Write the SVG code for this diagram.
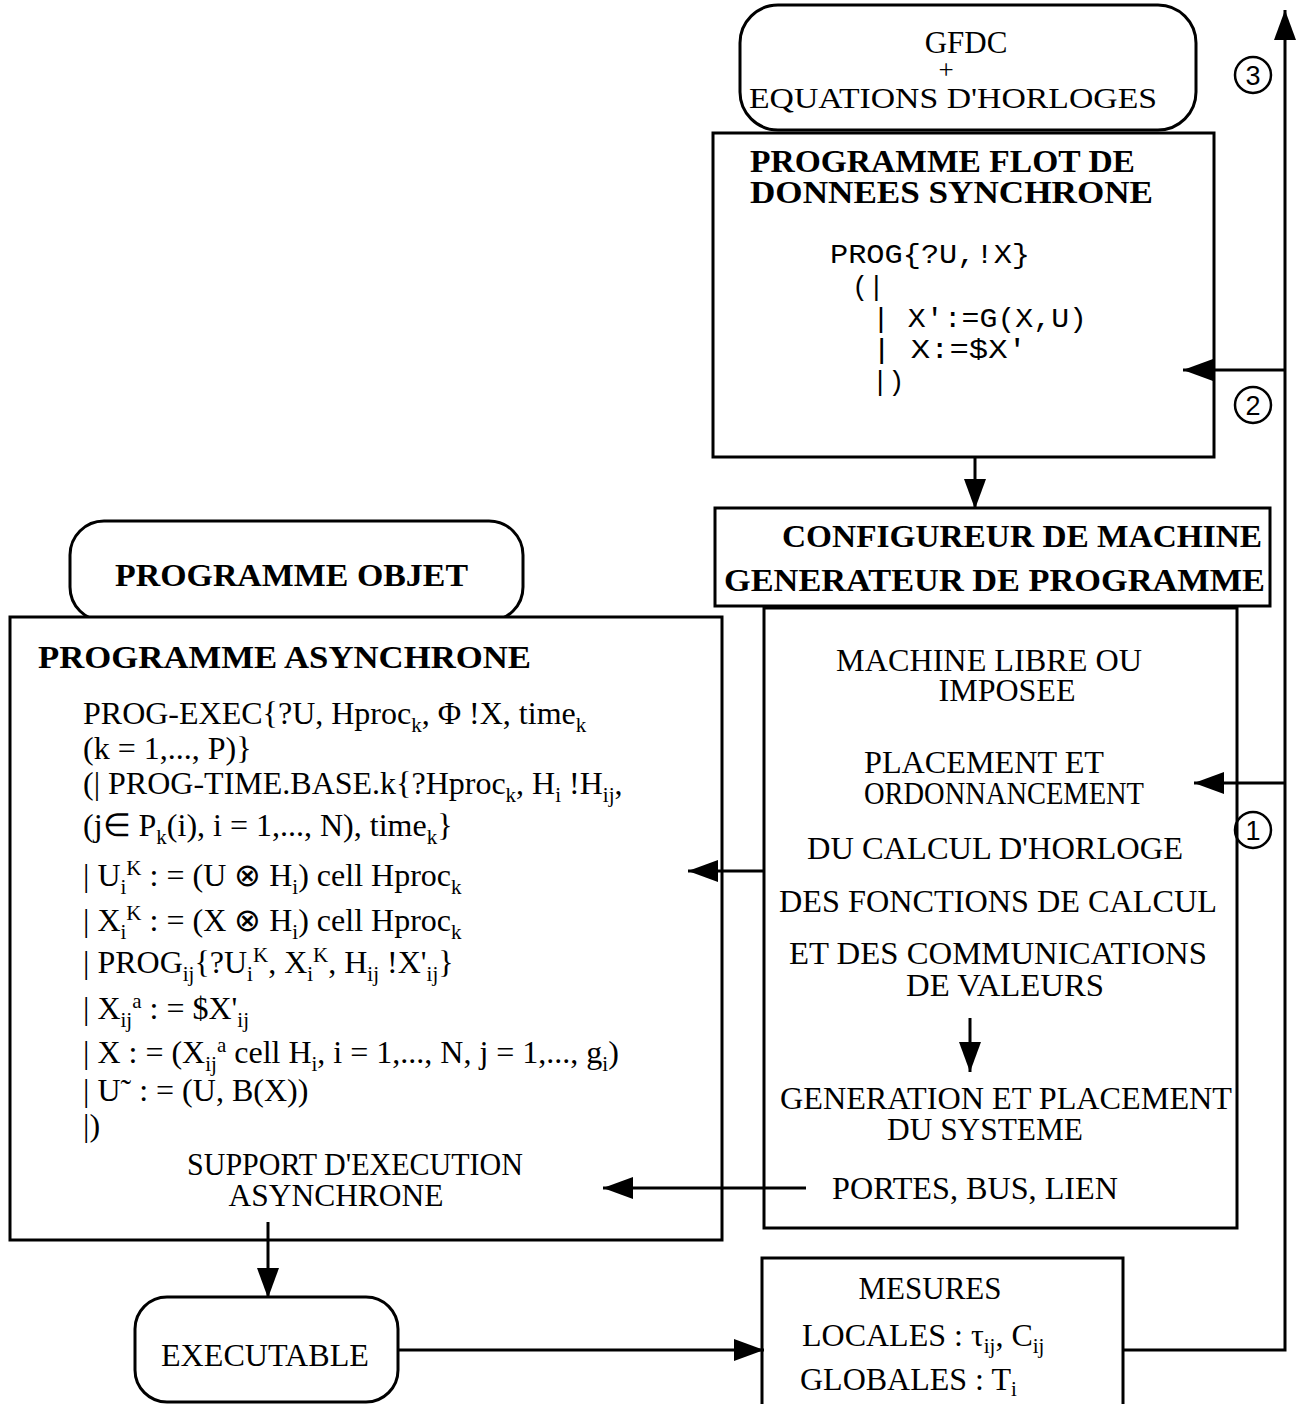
<svg xmlns="http://www.w3.org/2000/svg" width="1299" height="1404" viewBox="0 0 1299 1404">
<style>
.box{fill:#fff;stroke:#000;stroke-width:3}
.ln{fill:none;stroke:#000;stroke-width:3}
.t{font-family:"Liberation Serif","Times New Roman",serif;font-size:32px;fill:#000}
.b{font-family:"Liberation Serif","Times New Roman",serif;font-size:31px;font-weight:bold;fill:#000}
.m{font-family:"Liberation Mono","Courier New",monospace;font-size:27px;fill:#000}
.c{font-family:"Liberation Serif","Times New Roman",serif;font-size:31px;fill:#000;text-anchor:middle}
.s{font-size:21px}
.n{font-family:"Liberation Sans",Arial,sans-serif;font-size:27px;fill:#000;text-anchor:middle}
</style>
<defs>
<marker id="ah" markerUnits="userSpaceOnUse" markerWidth="32" markerHeight="24" refX="30" refY="11" orient="auto">
<path d="M0,0 L30,11 L0,22 z" fill="#000"/>
</marker>
</defs>
<rect width="1299" height="1404" fill="#fff"/>

<g id="gfdc">
<rect class="box" x="740" y="5" width="456" height="125" rx="38"/>
<text class="c" x="966" y="53" style="font-size:31px">GFDC</text>
<text class="c" x="946" y="79" style="font-size:27px">+</text>
<text class="c" x="953" y="108" style="font-size:29px" textLength="408" lengthAdjust="spacingAndGlyphs">EQUATIONS D'HORLOGES</text>
</g>

<g id="flot">
<rect class="box" x="713" y="133" width="501" height="324"/>
<text class="b" x="750" y="172" textLength="385" lengthAdjust="spacingAndGlyphs">PROGRAMME  FLOT  DE</text>
<text class="b" x="750" y="203" textLength="403" lengthAdjust="spacingAndGlyphs">DONNEES     SYNCHRONE</text>
<text class="m" x="830" y="263" textLength="200" lengthAdjust="spacingAndGlyphs">PROG{?U,!X}</text>
<text class="m" x="852" y="295">(|</text>
<text class="m" x="872" y="327" textLength="215" lengthAdjust="spacingAndGlyphs">| X':=G(X,U)</text>
<text class="m" x="872" y="358" textLength="155" lengthAdjust="spacingAndGlyphs">| X:=$X'</text>
<text class="m" x="872" y="390">|)</text>
</g>

<g id="configureur">
<rect class="box" x="715" y="508" width="555" height="98"/>
<text class="b" x="782" y="547" textLength="480" lengthAdjust="spacingAndGlyphs">CONFIGUREUR  DE  MACHINE</text>
<text class="b" x="724" y="591" textLength="541" lengthAdjust="spacingAndGlyphs">GENERATEUR   DE   PROGRAMME</text>
</g>

<g id="machine">
<rect class="box" x="764" y="608" width="473" height="620"/>
<text class="c" x="989" y="671" textLength="306" lengthAdjust="spacingAndGlyphs">MACHINE LIBRE OU</text>
<text class="c" x="1007" y="701" textLength="137" lengthAdjust="spacingAndGlyphs">IMPOSEE</text>
<text class="c" x="984" y="773" textLength="240" lengthAdjust="spacingAndGlyphs">PLACEMENT ET</text>
<text class="c" x="1004" y="804" textLength="280" lengthAdjust="spacingAndGlyphs">ORDONNANCEMENT</text>
<text class="c" x="995" y="859" textLength="376" lengthAdjust="spacingAndGlyphs">DU CALCUL D'HORLOGE</text>
<text class="c" x="998" y="912" textLength="438" lengthAdjust="spacingAndGlyphs">DES FONCTIONS DE CALCUL</text>
<text class="c" x="998" y="964" textLength="418" lengthAdjust="spacingAndGlyphs">ET DES COMMUNICATIONS</text>
<text class="c" x="1005" y="996" textLength="198" lengthAdjust="spacingAndGlyphs">DE VALEURS</text>
<text class="c" x="1006" y="1109" textLength="452" lengthAdjust="spacingAndGlyphs">GENERATION ET PLACEMENT</text>
<text class="c" x="985" y="1140" textLength="196" lengthAdjust="spacingAndGlyphs">DU SYSTEME</text>
<text class="c" x="975" y="1199" textLength="286" lengthAdjust="spacingAndGlyphs">PORTES, BUS, LIEN</text>
</g>

<g id="objet">
<rect class="box" x="70" y="521" width="453" height="100" rx="34"/>
<text class="b" x="115" y="586" textLength="353" lengthAdjust="spacingAndGlyphs">PROGRAMME     OBJET</text>
</g>

<g id="asynchrone">
<rect class="box" x="10" y="617" width="712" height="623"/>
<text class="b" x="38" y="668" textLength="493" lengthAdjust="spacingAndGlyphs">PROGRAMME      ASYNCHRONE</text>
<text class="t" x="83" y="724">PROG-EXEC{?U, Hproc<tspan class="s" dy="8">k</tspan><tspan dy="-8">, Φ !X, time</tspan><tspan class="s" dy="8">k</tspan></text>
<text class="t" x="83" y="759">(k = 1,..., P)}</text>
<text class="t" x="83" y="794">(| PROG-TIME.BASE.k{?Hproc<tspan class="s" dy="8">k</tspan><tspan dy="-8">, H</tspan><tspan class="s" dy="8">i</tspan><tspan dy="-8"> !H</tspan><tspan class="s" dy="8">ij</tspan><tspan dy="-8">,</tspan></text>
<text class="t" x="83" y="836">(j∈ P<tspan class="s" dy="8">k</tspan><tspan dy="-8">(i), i = 1,..., N), time</tspan><tspan class="s" dy="8">k</tspan><tspan dy="-8">}</tspan></text>
<text class="t" x="83" y="886">| U<tspan class="s" dy="8">i</tspan><tspan class="s" dy="-19">K</tspan><tspan dy="11"> : = (U ⊗ H</tspan><tspan class="s" dy="8">i</tspan><tspan dy="-8">) cell Hproc</tspan><tspan class="s" dy="8">k</tspan></text>
<text class="t" x="83" y="931">| X<tspan class="s" dy="8">i</tspan><tspan class="s" dy="-19">K</tspan><tspan dy="11"> : =  (X ⊗ H</tspan><tspan class="s" dy="8">i</tspan><tspan dy="-8">) cell Hproc</tspan><tspan class="s" dy="8">k</tspan></text>
<text class="t" x="83" y="973">| PROG<tspan class="s" dy="8">ij</tspan><tspan dy="-8">{?U</tspan><tspan class="s" dy="8">i</tspan><tspan class="s" dy="-19">K</tspan><tspan dy="11">, X</tspan><tspan class="s" dy="8">i</tspan><tspan class="s" dy="-19">K</tspan><tspan dy="11">, H</tspan><tspan class="s" dy="8">ij</tspan><tspan dy="-8"> !X'</tspan><tspan class="s" dy="8">ij</tspan><tspan dy="-8">}</tspan></text>
<text class="t" x="83" y="1019">| X<tspan class="s" dy="8">ij</tspan><tspan class="s" dy="-19">a</tspan><tspan dy="11"> : =  $X'</tspan><tspan class="s" dy="8">ij</tspan></text>
<text class="t" x="83" y="1063">| X : =  (X<tspan class="s" dy="8">ij</tspan><tspan class="s" dy="-19">a</tspan><tspan dy="11"> cell H</tspan><tspan class="s" dy="8">i</tspan><tspan dy="-8">, i = 1,..., N, j = 1,..., g</tspan><tspan class="s" dy="8">i</tspan><tspan dy="-8">)</tspan></text>
<text class="t" x="83" y="1101">| U˜ : =  (U, B(X))</text>
<text class="t" x="83" y="1136">|)</text>
<text class="c" x="355" y="1175" textLength="336" lengthAdjust="spacingAndGlyphs">SUPPORT D'EXECUTION</text>
<text class="c" x="336" y="1206" textLength="215" lengthAdjust="spacingAndGlyphs">ASYNCHRONE</text>
</g>

<g id="executable">
<rect class="box" x="135" y="1297" width="263" height="105" rx="32"/>
<text class="c" x="265" y="1366" textLength="208" lengthAdjust="spacingAndGlyphs">EXECUTABLE</text>
</g>

<g id="mesures">
<rect class="box" x="762" y="1258" width="361" height="150"/>
<text class="c" x="930" y="1299">MESURES</text>
<text class="t" x="802" y="1346">LOCALES :  τ<tspan class="s" dy="7">ij</tspan><tspan dy="-7">, C</tspan><tspan class="s" dy="7">ij</tspan></text>
<text class="t" x="800" y="1390">GLOBALES : T<tspan class="s" dy="6">i</tspan></text>
</g>

<g id="labels">
<circle cx="1253" cy="75" r="18" fill="none" stroke="#000" stroke-width="2.5"/>
<text class="n" x="1253" y="85">3</text>
<circle cx="1253" cy="405" r="18" fill="none" stroke="#000" stroke-width="2.5"/>
<text class="n" x="1253" y="415">2</text>
<circle cx="1253" cy="830" r="18" fill="none" stroke="#000" stroke-width="2.5"/>
<text class="n" x="1253" y="840">1</text>
</g>

<g id="connectors">
<path class="ln" d="M975,457 V509" marker-end="url(#ah)"/>
<path class="ln" d="M764,871 H688" marker-end="url(#ah)"/>
<path class="ln" d="M806,1188 H603" marker-end="url(#ah)"/>
<path class="ln" d="M268,1222 V1298" marker-end="url(#ah)"/>
<path class="ln" d="M398,1350 H764" marker-end="url(#ah)"/>
<path class="ln" d="M1123,1350 H1285 V10" marker-end="url(#ah)"/>
<path class="ln" d="M1285,370 H1183" marker-end="url(#ah)"/>
<path class="ln" d="M1285,783 H1194" marker-end="url(#ah)"/>
<path class="ln" d="M970,1018 V1072" marker-end="url(#ah)"/>
</g>
</svg>
